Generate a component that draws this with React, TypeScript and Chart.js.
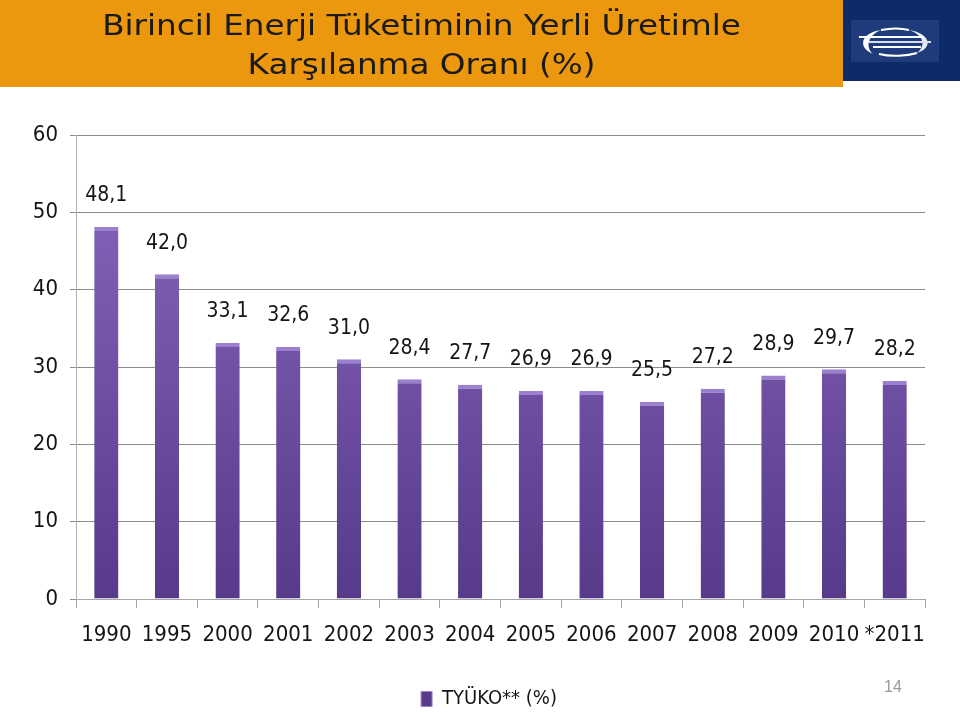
import React, { useEffect, useRef } from 'react';
import { Chart, registerables } from 'chart.js';

Chart.register(...registerables);

const categories = ['1990', '1995', '2000', '2001', '2002', '2003', '2004', '2005', '2006', '2007', '2008', '2009', '2010', '*2011'];
const values = [48.1, 42.0, 33.1, 32.6, 31.0, 28.4, 27.7, 26.9, 26.9, 25.5, 27.2, 28.9, 29.7, 28.2];
const yMin = 0;
const yMax = 60;
const yStep = 10;
const seriesLabel = 'TYÜKO** (%)';
const titleLines = ['Birincil Enerji Tüketiminin Yerli Üretimle', 'Karşılanma Oranı (%)'];
const pageNumber = '14';

const FONT = '"DejaVu Sans Condensed", "Liberation Sans Narrow", sans-serif';

const valueLabels = {
  id: 'valueLabels',
  afterDatasetsDraw(chart: any) {
    const ctx = chart.ctx;
    const meta = chart.getDatasetMeta(0);
    const data = chart.data.datasets[0].data as number[];
    ctx.save();
    ctx.font = `21px ${FONT}`;
    ctx.fillStyle = '#151515';
    ctx.textAlign = 'center';
    ctx.textBaseline = 'middle';
    meta.data.forEach((bar: any, i: number) => {
      ctx.fillText(data[i].toFixed(1).replace('.', ','), bar.x, bar.y - 31);
    });
    ctx.restore();
  },
};

function barFill(context: any) {
  const chart = context.chart;
  const area = chart.chartArea;
  if (!area) return '#7654a8';
  const g = chart.ctx.createLinearGradient(0, area.top, 0, area.bottom);
  g.addColorStop(0, '#8a69c0');
  g.addColorStop(1, '#573a8a');
  return g;
}

export default function App() {
  const canvasRef = useRef<HTMLCanvasElement | null>(null);

  useEffect(() => {
    if (!canvasRef.current) return;
    const chart = new Chart(canvasRef.current, {
      type: 'bar',
      data: {
        labels: categories,
        datasets: [
          {
            label: seriesLabel,
            data: values,
            backgroundColor: barFill as any,
            borderColor: '#9c80d0',
            borderWidth: { top: 4, left: 0, right: 0, bottom: 0 } as any,
            borderSkipped: 'start',
            categoryPercentage: 1,
            barPercentage: 0.4,
          },
        ],
      },
      options: {
        responsive: false,
        animation: false,
        layout: { padding: { top: 135, left: 53, right: 35, bottom: -5 } },
        plugins: {
          title: { display: false },
          tooltip: { enabled: false },
          legend: {
            display: true,
            position: 'bottom',
            labels: {
              font: { family: FONT, size: 20 },
              color: '#151515',
              boxWidth: 11,
              boxHeight: 15,
              padding: 4,
            },
          },
        },
        scales: {
          x: {
            afterFit(s: any) {
              s.height = 86;
            },
            grid: {
              offset: true,
              drawOnChartArea: false,
              drawTicks: true,
              tickLength: 9,
              color: '#a6a6a6',
            },
            border: { color: '#a6a6a6' },
            ticks: {
              font: { family: FONT, size: 22 },
              color: '#151515',
              padding: 14,
              maxRotation: 0,
              autoSkip: false,
            },
          },
          y: {
            min: yMin,
            max: yMax,
            afterFit(s: any) {
              s.width = 23;
              s._computeLabelArea = () => undefined;
            },
            grid: { color: '#8c8c8c', tickLength: 6 },
            border: { color: '#b3b3b3' },
            ticks: {
              stepSize: yStep,
              font: { family: FONT, size: 22 },
              color: '#151515',
              padding: 12,
            },
          },
        },
      },
      plugins: [valueLabels],
    });
    return () => chart.destroy();
  }, []);

  return (
    <div style={{ position: 'absolute', left: 0, top: 0, width: 960, height: 714, background: '#fff', overflow: 'hidden' }}>
      <canvas ref={canvasRef} width={960} height={714} style={{ position: 'absolute', left: 0, top: 0, width: 960, height: 714 }} />
      <div
        style={{
          position: 'absolute',
          left: 0,
          top: 0,
          width: 843,
          height: 87,
          background: '#ec980f',
          color: '#1a1a1a',
          fontFamily: '"DejaVu Sans", sans-serif',
          fontSize: 28,
          lineHeight: '39px',
          textAlign: 'center',
          paddingTop: 6,
          boxSizing: 'border-box',
        }}
      >
        {titleLines.map((t) => (
          <div key={t} style={{ transform: 'scaleX(1.165)', transformOrigin: '421.5px 50%', whiteSpace: 'nowrap' }}>
            {t}
          </div>
        ))}
      </div>
      <div style={{ position: 'absolute', left: 843, top: 0, width: 117, height: 81, background: '#0f2a68' }}>
        <svg width={88} height={42} viewBox="0 0 88 42" style={{ position: 'absolute', left: 8, top: 20 }}>
          <rect x={0} y={0} width={88} height={42} fill="#203b7b" />
          <path d="M30 10 C 10 13, 6 27, 22 34 C 14 27, 17 15, 30 10 Z" fill="#ffffff" />
          <path d="M58 10 C 78 13, 84 27, 66 33 C 76 25, 72 15, 58 10 Z" fill="#e8ecf5" />
          <path d="M28 34 C 40 37, 56 36, 66 33" stroke="#ffffff" strokeWidth={2} fill="none" />
          <path d="M30 10 C 40 8, 50 8, 58 10" stroke="#ffffff" strokeWidth={2} fill="none" />
          <line x1={8} y1={17} x2={72} y2={17} stroke="#ffffff" strokeWidth={2} />
          <line x1={18} y1={22} x2={80} y2={22} stroke="#d9dff0" strokeWidth={2} />
          <line x1={22} y1={27} x2={70} y2={27} stroke="#ffffff" strokeWidth={2} />
        </svg>
      </div>
      <div
        style={{
          position: 'absolute',
          left: 870,
          top: 678,
          width: 46,
          textAlign: 'center',
          color: '#9a9a9a',
          fontFamily: '"Liberation Sans", Arial, sans-serif',
          fontSize: 16,
        }}
      >
        {pageNumber}
      </div>
    </div>
  );
}
